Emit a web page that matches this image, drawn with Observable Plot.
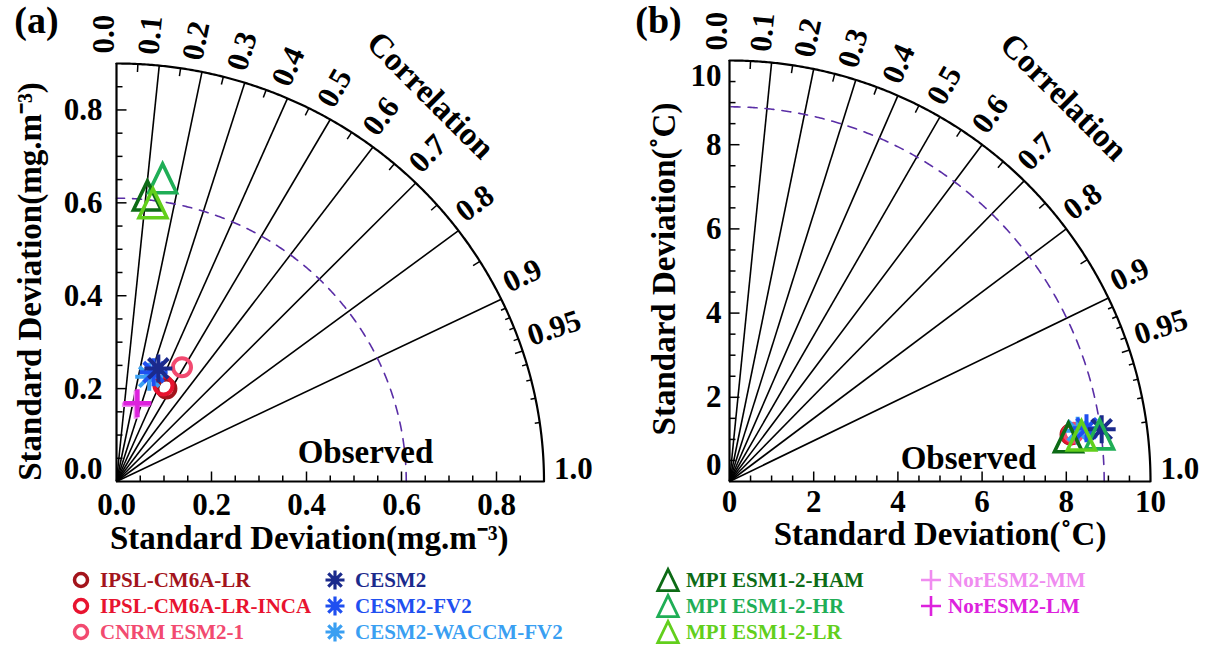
<!DOCTYPE html>
<html><head><meta charset="utf-8">
<script src="https://cdn.jsdelivr.net/npm/d3@7"></script>
<script src="https://cdn.jsdelivr.net/npm/@observablehq/plot@0.6"></script>
<style>
body{margin:0;background:#fff;width:1205px;height:646px;overflow:hidden;font-family:"Liberation Serif",serif;}
#row{display:flex;width:1205px;height:560px;}
#pa{width:602px;height:560px;}
#pb{width:603px;height:560px;}
#row svg{max-width:none;}
#legend{position:relative;width:1205px;height:86px;}
.lg-m{position:absolute;width:28px;height:26px;overflow:visible;}
.lg-t{position:absolute;height:26px;line-height:26px;font-weight:bold;font-size:21px;white-space:nowrap;font-family:"Liberation Serif",serif;}
</style></head><body>
<div id="row"><div id="pa"></div><div id="pb"></div></div>
<div id="legend"></div>
<script>
// ---------- data ----------
const models = ["IPSL-CM6A-LR","IPSL-CM6A-LR-INCA","CNRM ESM2-1","CESM2","CESM2-FV2","CESM2-WACCM-FV2","MPI ESM1-2-HAM","MPI ESM1-2-HR","MPI ESM1-2-LR","NorESM2-MM","NorESM2-LM"];
const modelColors = ["#a3141c","#e8132f","#f24a70","#1b2a8c","#1f4ff0","#3a9ff2","#0d6b16","#1fae56","#62cf1c","#f08cf0","#dd22dd"];
const modelMarkers = ["circle","circle","circle","asterisk","asterisk","asterisk","triangle","triangle","triangle","plus","plus"];
const drawOrder = [0,1,2,5,4,3,9,10,7,6,8];

// panel (a): standard deviation (mg.m-3) and correlation
const stdA  = [0.226,0.229,0.282,0.259,0.248,0.236,0.619,0.660,0.604,0.170,0.174];
const corrA = [0.465,0.432,0.489,0.340,0.315,0.292,0.105,0.147,0.127,0.240,0.253];
const refStdA = 0.61;

// panel (b): standard deviation (°C) and correlation
const stdB  = [8.177,8.197,8.252,8.927,8.573,8.358,8.118,8.861,8.431,null,null];
const corrB = [0.9906,0.9906,0.9901,0.9903,0.9891,0.9895,0.9916,0.9920,0.9916,null,null];
const refStdB = 8.9;

const corrLines = [0.1,0.2,0.3,0.4,0.5,0.6,0.7,0.8,0.9];
const corrLabels = [0.0,0.1,0.2,0.3,0.4,0.5,0.6,0.7,0.8,0.9,0.95,1.0];
const corrLabelText = ["0.0","0.1","0.2","0.3","0.4","0.5","0.6","0.7","0.8","0.9","0.95","1.0"];
const corrTicksCoarse = [0.05,0.15,0.25,0.35,0.45,0.55,0.65,0.75,0.85];
const corrTicksFine = [0.91,0.92,0.93,0.94,0.95,0.96,0.97,0.98,0.99];
const sdLabelsA = [0.0,0.2,0.4,0.6,0.8];
const sdLabelsB = [0,2,4,6,8,10];

// ---------- symbols ----------
const symbols = {
  circle: {draw(ctx, size){const r=Math.sqrt(size/Math.PI); ctx.moveTo(r,0); ctx.arc(0,0,r,0,2*Math.PI); ctx.closePath();}},
  asterisk: {draw(ctx, size){const r=Math.sqrt(size/Math.PI); for(let k=0;k<4;k++){const a=k*Math.PI/4, c=Math.cos(a)*r, s=Math.sin(a)*r; ctx.moveTo(-c,-s); ctx.lineTo(c,s);}}},
  plus: {draw(ctx, size){const r=Math.sqrt(size/Math.PI); ctx.moveTo(-r,0); ctx.lineTo(r,0); ctx.moveTo(0,-r); ctx.lineTo(0,r);}},
  triangle: {draw(ctx, size){const r=Math.sqrt(size/Math.PI); const w=r*0.82, h=r*1.7; ctx.moveTo(0,-h/2); ctx.lineTo(w,h/2); ctx.lineTo(-w,h/2); ctx.closePath();}}
};
const markerR = {circle:9, asterisk:14, plus:14, triangle:17};
const markerW = {circle:4, asterisk:4, plus:4.5, triangle:3.6};

const FONT = "Liberation Serif";
const txt = {fontFamily: FONT, fontWeight: "bold", fill: "black", textAnchor: "middle", lineAnchor: "middle"};
const FS_TICK = 31, FS_TITLE = 33, FS_TAG = 38;

function panel(c) {
  const R = c.rmax;
  const ppuX = (c.W - c.ml - c.mr) / R, ppuY = (c.H - c.mt - c.mb) / R;
  const sinOf = d => Math.sqrt(Math.max(0, 1 - d*d));
  const arcPts = r => d3.range(0, 90.001, 0.25).map(a => [r*Math.cos(a*Math.PI/180), r*Math.sin(a*Math.PI/180)]);
  const sdTicks = d3.range(c.minorStep, R - 1e-9, c.minorStep);
  const isMajor = d => c.sdLabels.some(v => Math.abs(v - d) < 1e-9);
  const arcTick = (vals, len) => Plot.link(vals, {
    x1: d => R*d, y1: d => R*sinOf(d),
    x2: d => (R*ppuX - len)*d/ppuX, y2: d => (R*ppuY - len)*sinOf(d)/ppuY,
    stroke: "black", strokeWidth: 1.5});
  const gap = 10, off = 12;
  const lx = d => (R*ppuX*d + gap*d - off*sinOf(d)) / ppuX;
  const ly = d => (R*ppuY*sinOf(d) + gap*sinOf(d) + off*d) / ppuY;
  const pts = drawOrder.filter(i => c.std[i] != null).map(i => ({i, x: c.std[i]*c.corr[i], y: c.std[i]*sinOf(c.corr[i])}));
  const dots = pts.map(p => Plot.dot([p], {x: "x", y: "y", r: markerR[modelMarkers[p.i]], symbol: symbols[modelMarkers[p.i]],
    stroke: modelColors[p.i], strokeWidth: markerW[modelMarkers[p.i]], fill: "none"}));
  const ca = c.corrTitle[0]*Math.PI/180, cr = c.corrTitle[1]*R;
  return Plot.plot({
    width: c.W, height: c.H, marginLeft: c.ml, marginRight: c.mr, marginTop: c.mt, marginBottom: c.mb,
    x: {domain: [0, R], axis: null}, y: {domain: [0, R], axis: null},
    style: {fontFamily: FONT, background: "white", overflow: "visible"},
    marks: [
      Plot.link(corrLines, {x1: 0, y1: 0, x2: d => R*d, y2: d => R*sinOf(d), stroke: "black", strokeWidth: 1.6}),
      Plot.line(arcPts(c.ref), {stroke: "#5a2ea6", strokeWidth: 1.6, strokeDasharray: "9,8"}),
      Plot.line(arcPts(R), {stroke: "black", strokeWidth: 2.2}),
      Plot.ruleY([0], {x1: 0, x2: R, stroke: "black", strokeWidth: 2.2}),
      Plot.ruleX([0], {y1: 0, y2: R, stroke: "black", strokeWidth: 2.2}),
      Plot.link(sdTicks, {x1: d => d, x2: d => d, y1: 0, y2: d => (isMajor(d) ? 10 : 6)/ppuY, stroke: "black", strokeWidth: 1.5}),
      Plot.link(sdTicks, {y1: d => d, y2: d => d, x1: 0, x2: d => (isMajor(d) ? 10 : 6)/ppuX, stroke: "black", strokeWidth: 1.5}),
      arcTick(corrTicksCoarse, 8),
      arcTick(corrTicksFine.filter(d => d !== 0.95), 5),
      arcTick([0.95], 8),
      Plot.text(c.sdLabels, {x: d => d, y: 0, text: c.fmt, dy: c.xLabelDy, fontSize: FS_TICK, ...txt}),
      Plot.text(c.sdLabels.filter(d => d > 0 && d < R - 1e-9), {x: 0, y: d => d, text: c.fmt, dx: c.yLabelDx, fontSize: FS_TICK, ...txt, textAnchor: "end"}),
      Plot.text(c.sdLabels.filter(d => d === 0), {x: 0, y: d => d, text: c.fmt, dx: c.yLabelDx, dy: -c.yEndShift, fontSize: FS_TICK, ...txt, textAnchor: "end"}),
      Plot.text(c.sdLabels.filter(d => Math.abs(d - R) < 1e-9), {x: 0, y: d => d, text: c.fmt, dx: c.yLabelDx, dy: c.yEndShift, fontSize: FS_TICK, ...txt, textAnchor: "end"}),
      Plot.text(corrLabels, {x: lx, y: ly, text: (d, i) => corrLabelText[i], rotate: d => -Math.acos(d)*180/Math.PI, fontSize: FS_TICK, ...txt, textAnchor: "start"}),
      Plot.text(["Correlation"], {x: cr*Math.cos(ca), y: cr*Math.sin(ca), text: d => d, rotate: 45, fontSize: FS_TITLE, ...txt}),
      Plot.text(["Observed"], {frameAnchor: "bottom-left", dx: c.obsPos[0], dy: c.obsPos[1], text: d => d, fontSize: FS_TITLE, ...txt}),
      Plot.text([c.xTitle], {frameAnchor: "bottom", dx: c.xTitlePos[0], dy: c.xTitlePos[1], text: d => d, fontSize: FS_TITLE, ...txt}),
      Plot.text([c.yTitle], {frameAnchor: "left", dx: c.yTitlePos[0], dy: c.yTitlePos[1], text: d => d, rotate: -90, fontSize: FS_TITLE, ...txt}),
      Plot.text([c.tag], {frameAnchor: "top-left", dx: c.tagPos[0], dy: c.tagPos[1], text: d => d, fontSize: FS_TAG, ...txt}),
      ...dots
    ]
  });
}

const cfgA = {W: 602, H: 560, ml: 116, mr: 58.5, mt: 63, mb: 79, rmax: 0.9, std: stdA, corr: corrA, ref: refStdA,
  minorStep: 0.05, sdLabels: sdLabelsA, fmt: d => d.toFixed(1), xLabelDy: 24, yLabelDx: -14, yEndShift: 12,
  xTitle: "Standard Deviation(mg.m\u207B\u00B3)", yTitle: "Standard Deviation(mg.m\u207B\u00B3)", tag: "(a)",
  xTitlePos: [-21, 57], yTitlePos: [-86, 9], obsPos: [249, -29], tagPos: [-80, -43], corrTitle: [51.5, 1.18]};
const cfgB = {W: 603, H: 560, ml: 127, mr: 55, mt: 60, mb: 79, rmax: 10, std: stdB, corr: corrB, ref: refStdB,
  minorStep: 0.5, sdLabels: sdLabelsB, fmt: d => String(d), xLabelDy: 21, yLabelDx: -8, yEndShift: 16,
  xTitle: "Standard Deviation(\u02DAC)", yTitle: "Standard Deviation(\u02DAC)", tag: "(b)",
  xTitlePos: [0, 53], yTitlePos: [-65, -2], obsPos: [239, -23], tagPos: [-71, -40], corrTitle: [49, 1.21]};

document.getElementById("pa").append(panel(cfgA));
document.getElementById("pb").append(panel(cfgB));

// ---------- legend ----------
const legendCols = [[0,1,2],[3,4,5],[6,7,8],[9,10]];
const legendMarkerX = [81, 335, 668, 931];
const legendTextX = [100, 355, 686, 948];
const legendRowTop = [7, 33, 59];
const legendR = {circle: 6.5, asterisk: 9.5, plus: 10, triangle: 12.5};
const legendW = {circle: 3.5, asterisk: 3.2, plus: 2.6, triangle: 2.8};
const lg = document.getElementById("legend");
legendCols.forEach((col, ci) => col.forEach((i, ri) => {
  const m = modelMarkers[i];
  const svg = d3.create("svg").attr("class", "lg-m").attr("viewBox", "-14 -13 28 26")
    .style("left", (legendMarkerX[ci] - 14) + "px").style("top", legendRowTop[ri] + "px");
  svg.append("path").attr("d", d3.symbol(symbols[m], Math.PI*legendR[m]*legendR[m])())
    .attr("fill", "none").attr("stroke", modelColors[i]).attr("stroke-width", legendW[m]);
  lg.append(svg.node());
  const t = document.createElement("div");
  t.className = "lg-t"; t.textContent = models[i]; t.style.color = modelColors[i];
  t.style.left = legendTextX[ci] + "px"; t.style.top = legendRowTop[ri] + "px";
  lg.append(t);
}));
</script>
</body></html>
